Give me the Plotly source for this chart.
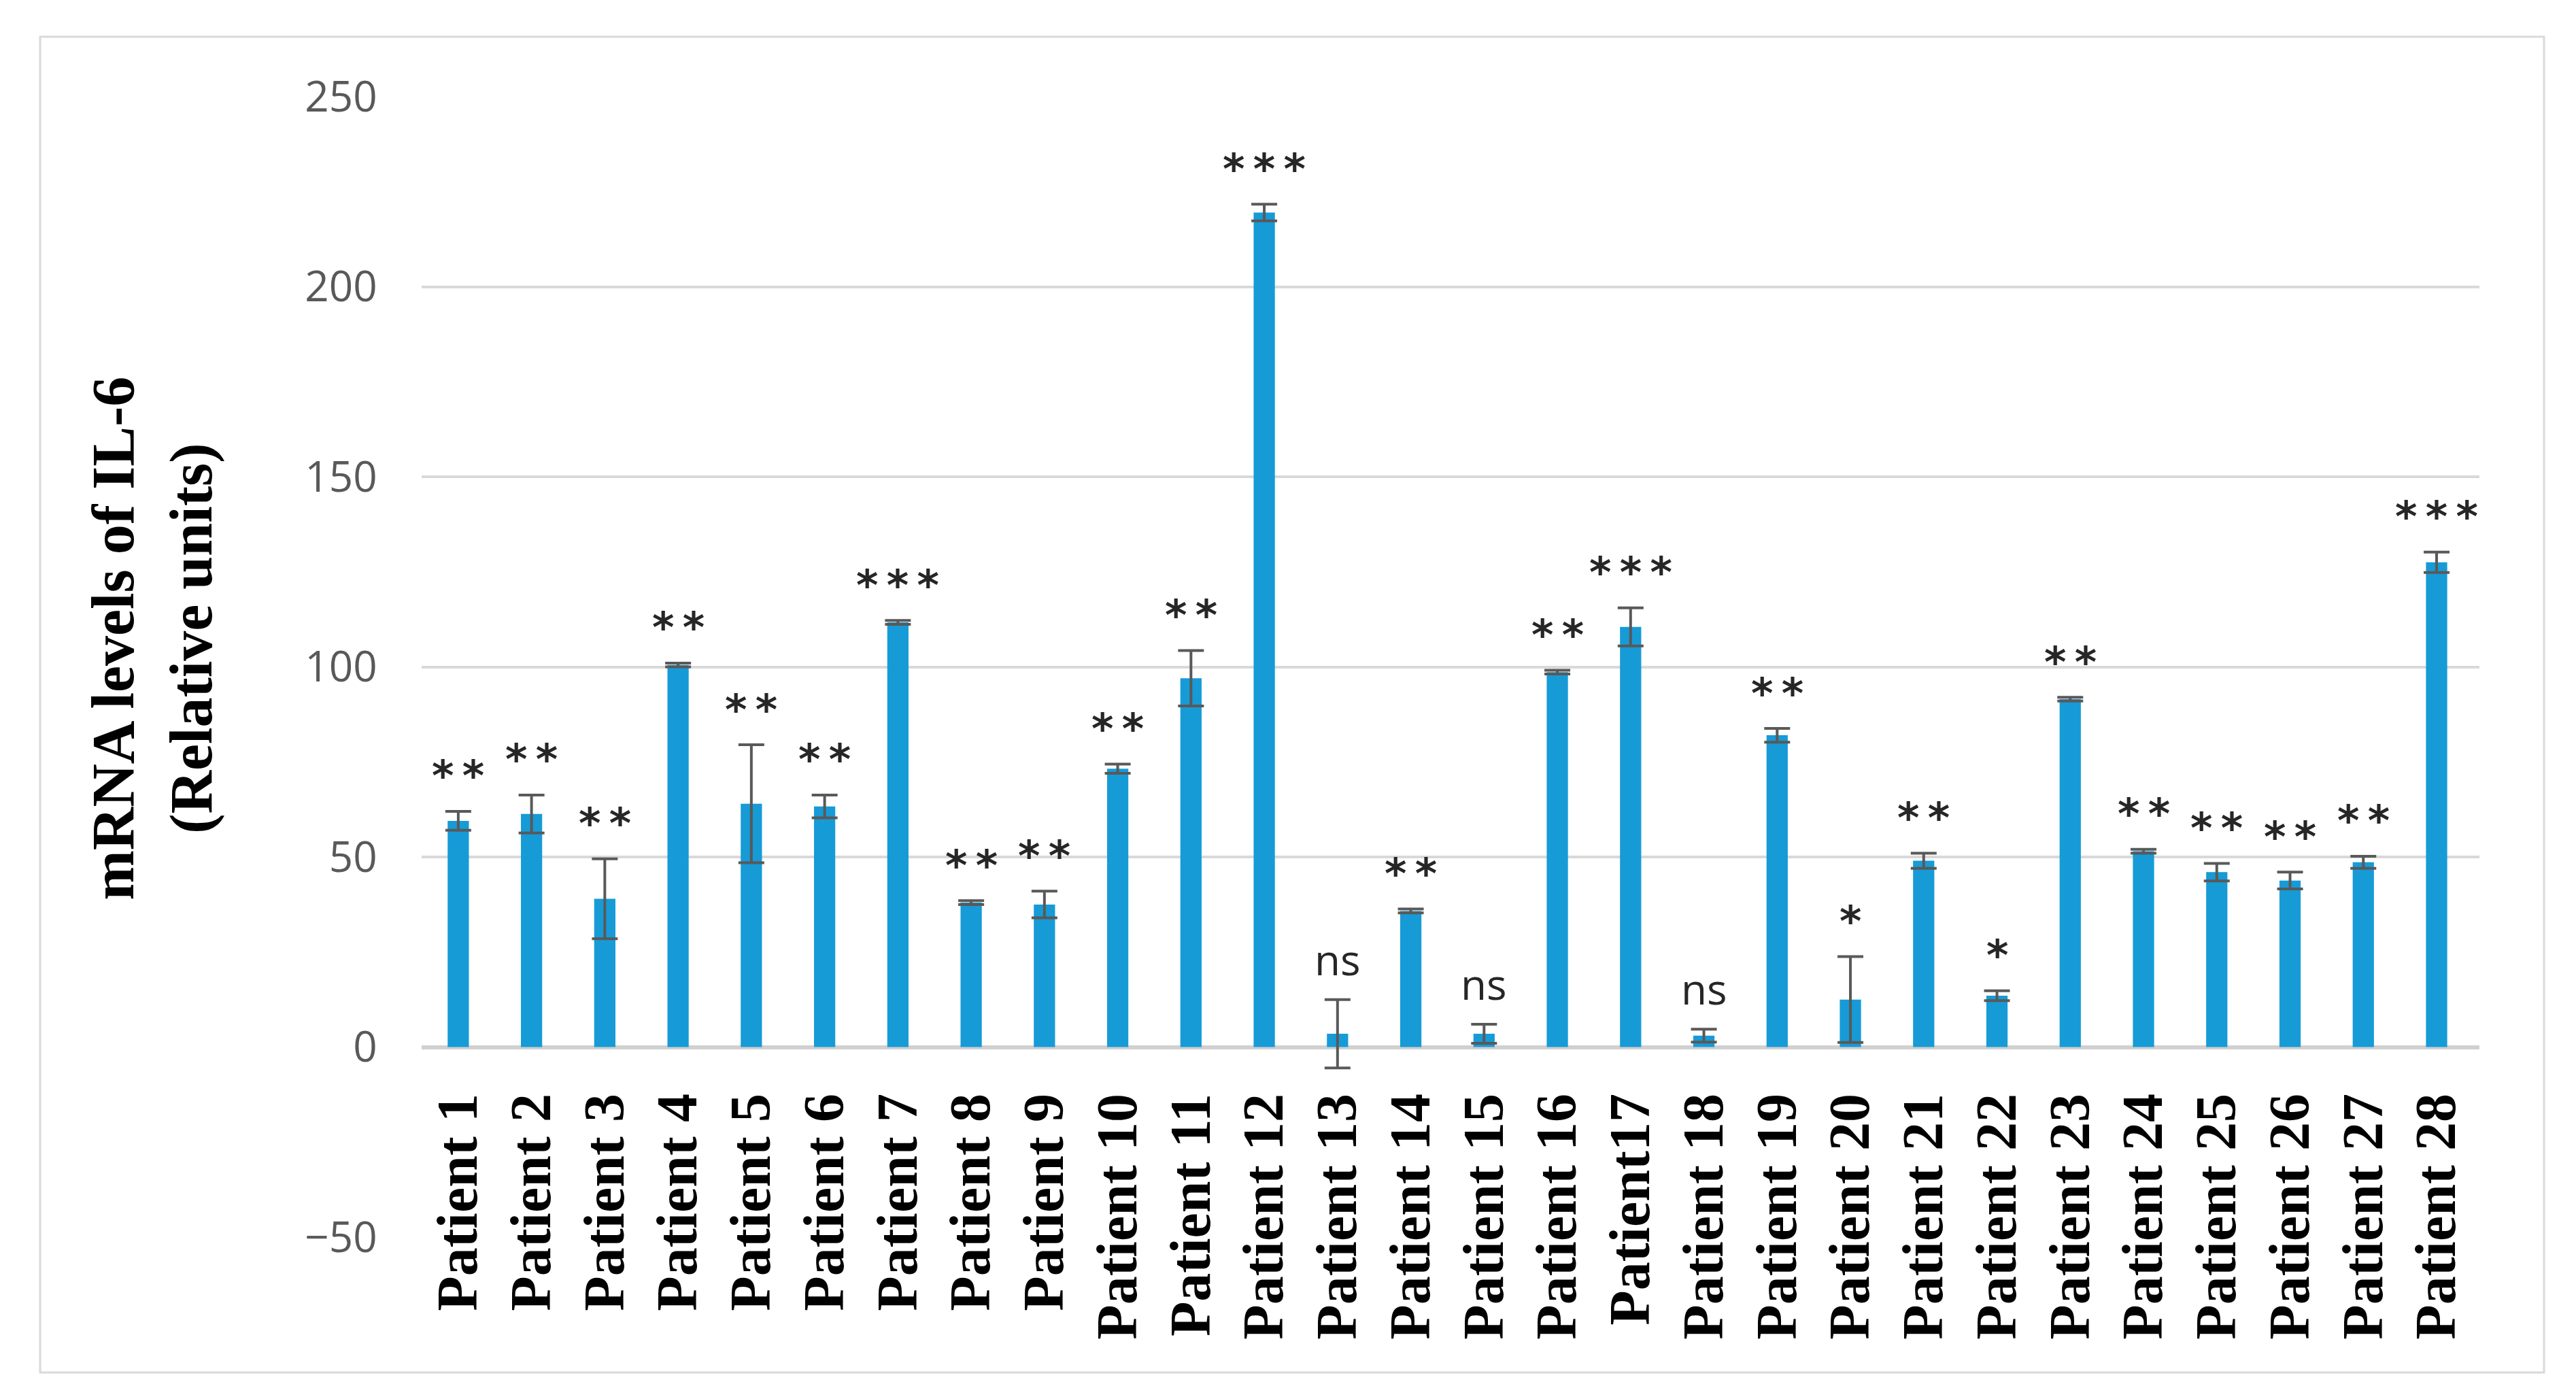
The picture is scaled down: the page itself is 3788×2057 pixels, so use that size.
import plotly.graph_objects as go

categories = ["Patient 1", "Patient 2", "Patient 3", "Patient 4", "Patient 5", "Patient 6",
              "Patient 7", "Patient 8", "Patient 9", "Patient 10", "Patient 11", "Patient 12",
              "Patient 13", "Patient 14", "Patient 15", "Patient 16", "Patient17", "Patient 18",
              "Patient 19", "Patient 20", "Patient 21", "Patient 22", "Patient 23", "Patient 24",
              "Patient 25", "Patient 26", "Patient 27", "Patient 28"]
values = [59.5, 61.3, 39.0, 100.5, 64.0, 63.3, 111.7, 38.0, 37.5, 73.2, 97.0, 219.5,
          3.5, 35.8, 3.5, 98.6, 110.5, 3.0, 82.0, 12.5, 49.0, 13.5, 91.5, 51.5,
          46.0, 43.8, 48.6, 127.5]
errors = [2.5, 5.0, 10.5, 0.5, 15.5, 3.0, 0.5, 0.5, 3.5, 1.2, 7.3, 2.2,
          9.0, 0.5, 2.5, 0.5, 5.0, 1.7, 1.8, 11.3, 2.0, 1.3, 0.5, 0.5,
          2.3, 2.2, 1.6, 2.7]
significance = ["**", "**", "**", "**", "**", "**", "***", "**", "**", "**", "**", "***",
                "ns", "**", "ns", "**", "***", "ns", "**", "*", "**", "*", "**", "**",
                "**", "**", "**", "***"]
y_ticks = [-50, 0, 50, 100, 150, 200, 250]
y_title = "mRNA levels of IL-6<br>(Relative units)"

W, H = 3788, 2057
ML, MR, MT, MB = 612, 150, 134, 246
plot_w = W - ML - MR
plot_h = H - MT - MB
y_min, y_max = y_ticks[0], y_ticks[-1]

fig = go.Figure()
fig.add_trace(go.Bar(
    x=categories, y=values,
    marker=dict(color="#169BD7", line=dict(width=0)),
    error_y=dict(type="data", array=errors, visible=True,
                 color="#595959", thickness=4, width=19),
    showlegend=False,
))

for c, v, e, s in zip(categories, values, errors, significance):
    is_ns = s == "ns"
    txt = s if is_ns else "\u2009".join(s)
    fig.add_annotation(
        x=c, y=v + e, xref="x", yref="y",
        text=txt, showarrow=False,
        yanchor="middle", yshift=(60 if is_ns else 52),
        font=dict(family=("Open Sans" if is_ns else "DejaVu Sans"),
                  size=(62 if is_ns else 62), color="#262626",
                  weight=(400 if is_ns else 700)),
    )

fig.add_annotation(
    x=-396 / plot_w, y=0.525,
    xref="paper", yref="paper", text=y_title, showarrow=False,
    textangle=-90, xanchor="center", yanchor="middle",
    font=dict(family="Liberation Serif", size=88, color="#000000", weight=700),
)

fig.add_shape(
    type="rect", xref="paper", yref="paper",
    x0=(51 - ML) / plot_w, x1=(3733 - ML) / plot_w,
    y0=-(2010 - (H - MB)) / plot_h, y1=1 + (MT - 46) / plot_h,
    line=dict(color="#D9D9D9", width=3), fillcolor="rgba(0,0,0,0)", layer="below",
)

fig.update_layout(
    width=W, height=H,
    margin=dict(l=ML, r=MR, t=MT, b=MB, autoexpand=False),
    paper_bgcolor="white", plot_bgcolor="white",
    bargap=0.71,
    xaxis=dict(
        type="category", anchor="free", position=(0 - y_min) / (y_max - y_min),
        showgrid=False, showline=False, zeroline=False,
        ticks="outside", ticklen=34, tickcolor="rgba(0,0,0,0)",
        tickangle=-90, automargin=False,
        tickfont=dict(family="Liberation Serif", size=84, color="#000000", weight=700),
    ),
    yaxis=dict(
        range=[y_min, y_max], tickvals=y_ticks,
        showgrid=True, gridcolor="#D9D9D9", gridwidth=4,
        zeroline=True, zerolinecolor="#D0D0D0", zerolinewidth=6,
        showline=False, ticks="outside", ticklen=52, tickcolor="rgba(0,0,0,0)",
        automargin=False,
        tickfont=dict(family="Open Sans", size=62, color="#595959"),
    ),
)

fig.write_html("out.html")
